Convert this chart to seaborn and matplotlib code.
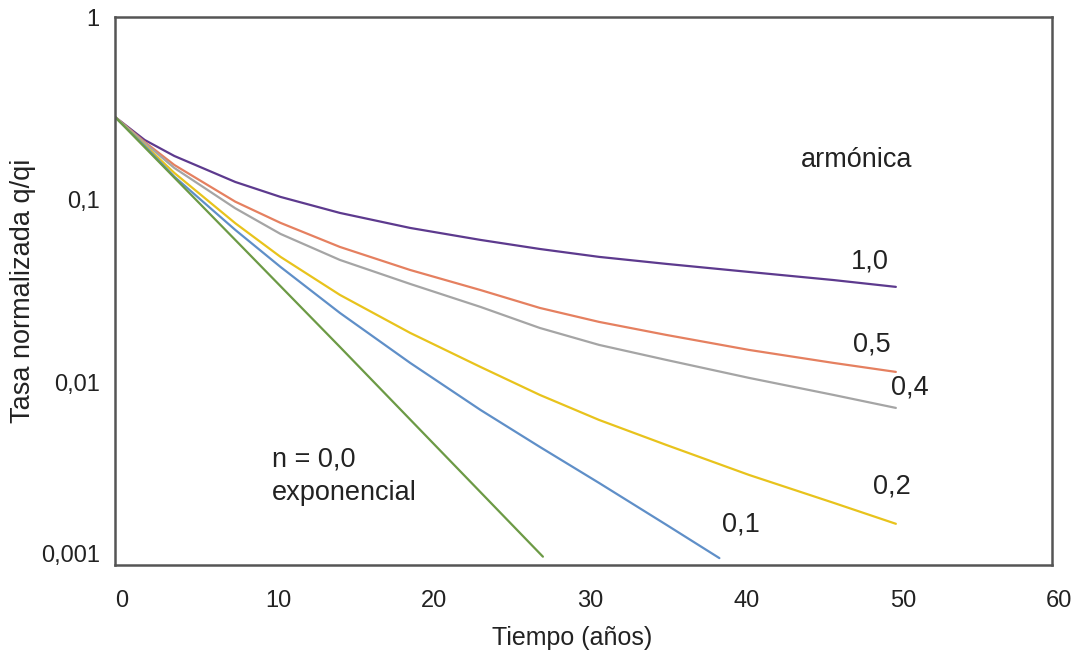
import pandas as pd
import matplotlib
matplotlib.use('Agg')
import matplotlib.pyplot as plt
import matplotlib.transforms as mtransforms
import seaborn as sns
import numpy as np

# Values (t in years, q/qi normalised rate)
t_armonica = [0, 1.9, 3.8, 7.7, 10.6, 14.4, 18.9, 23.4, 27.2, 31.0, 35.3, 40.6, 46.0, 50.0]
q_armonica = [0.2836, 0.2122, 0.1734, 0.1250, 0.1035, 0.0846, 0.0700, 0.0602, 0.0537, 0.0486, 0.0445, 0.0402, 0.0363, 0.0333]

t_n05 = [0, 1.9, 3.8, 7.7, 10.6, 14.4, 18.9, 23.4, 27.2, 31.0, 35.3, 40.6, 46.0, 50.0]
q_n05 = [0.2836, 0.2069, 0.1548, 0.0975, 0.0746, 0.0551, 0.0412, 0.0320, 0.02554, 0.02141, 0.01817, 0.01504, 0.01277, 0.0114]

t_n04 = [0, 1.9, 3.8, 7.7, 10.6, 14.4, 18.9, 23.4, 27.2, 31.0, 35.3, 40.6, 46.0, 50.0]
q_n04 = [0.2836, 0.2043, 0.1491, 0.0897, 0.0649, 0.04677, 0.03456, 0.02587, 0.01984, 0.01602, 0.01326, 0.01057, 0.00853, 0.00724]

t_n02 = [0, 1.9, 3.8, 7.7, 10.6, 14.4, 18.9, 23.4, 27.2, 31.0, 35.3, 40.6, 46.0, 50.0]
q_n02 = [0.2836, 0.1992, 0.1400, 0.0743, 0.0486, 0.0301, 0.01864, 0.01214, 0.00853, 0.00622, 0.00454, 0.00311, 0.00219, 0.00168]

t_n01 = [0, 1.9, 3.8, 7.7, 10.6, 14.4, 18.9, 23.4, 27.2, 31.0, 35.3, 38.7]
q_n01 = [0.2836, 0.1967, 0.1336, 0.0683, 0.0428, 0.02398, 0.01277, 0.00706, 0.00443, 0.00281, 0.00166, 0.00109]

t_exp = [0, 14.4, 27.4]
q_exp = [0.2836, 0.01562, 0.00111]

x_ticks = [0, 10, 20, 30, 40, 50, 60]
y_ticks = [0.001, 0.01, 0.1, 1]
y_tick_labels = ['0,001', '0,01', '0,1', '1']

curves = {
    '1,0': (t_armonica, q_armonica),
    '0,5': (t_n05, q_n05),
    '0,4': (t_n04, q_n04),
    '0,2': (t_n02, q_n02),
    '0,1': (t_n01, q_n01),
    '0,0': (t_exp, q_exp),
}
palette = {
    '1,0': '#5d3a8e',
    '0,5': '#e58060',
    '0,4': '#a5a5a5',
    '0,2': '#e8c31c',
    '0,1': '#5f8fc8',
    '0,0': '#6c9a45',
}

rows = []
for name, (ts, qs) in curves.items():
    for t, q in zip(ts, qs):
        rows.append({'curva': name, 't': t, 'q': q})
df = pd.DataFrame(rows)

sns.set_style('white')
plt.rcParams['font.family'] = ['Liberation Sans', 'DejaVu Sans']

fig, ax = plt.subplots(figsize=(10.82, 6.67), dpi=100)
fig.subplots_adjust(left=0.1063, right=0.9723, bottom=0.153, top=0.9745)

sns.lineplot(data=df, x='t', y='q', hue='curva', palette=palette,
             linewidth=1.6, legend=False, ax=ax, sort=True, estimator=None)

ax.set_yscale('log')
ax.set_xlim(0, 60)
ax.set_ylim(0.001, 1)
ax.set_xticks(x_ticks)
ax.set_xticklabels([str(v) for v in x_ticks])
ax.set_yticks(y_ticks)
ax.set_yticklabels(y_tick_labels)
ax.minorticks_off()
ax.tick_params(axis='both', length=0, labelsize=17, colors='#222222')
ax.tick_params(axis='x', pad=18)
ax.tick_params(axis='y', pad=11)

# the reference draws its x labels a few pixels right of the ticks
shift = mtransforms.ScaledTranslation(7 / 100, 0, fig.dpi_scale_trans)
for lbl in ax.get_xticklabels():
    lbl.set_transform(lbl.get_transform() + shift)
    lbl.set_clip_on(False)
lift = mtransforms.ScaledTranslation(0, 11 / 100, fig.dpi_scale_trans)
ylbl = ax.get_yticklabels()[0]
ylbl.set_transform(ylbl.get_transform() + lift)

for s in ax.spines.values():
    s.set_color('#555555')
    s.set_linewidth(1.8)

ax.set_xlabel('Tiempo (años)', fontsize=18, color='#222222')
ax.set_ylabel('Tasa normalizada q/qi', fontsize=19.5, color='#222222')
ax.xaxis.set_label_coords(0.488, -0.111)
ax.yaxis.set_label_coords(-0.084, 0.5)

txt = dict(fontsize=19.5, color='#222222', va='center')
ax.text(47.5, 0.165, 'armónica', ha='center', **txt)
ax.text(48.34, 0.0456, '1,0', ha='center', **txt)
ax.text(48.46, 0.01602, '0,5', ha='center', **txt)
ax.text(50.9, 0.00931, '0,4', ha='center', **txt)
ax.text(49.74, 0.002676, '0,2', ha='center', **txt)
ax.text(40.08, 0.00166, '0,1', ha='center', **txt)
ax.text(10.05, 0.003761, 'n = 0,0', ha='left', **txt)
ax.text(10.05, 0.002481, 'exponencial', ha='left', **txt)

plt.savefig('out.png', dpi=100)
plt.close(fig)
